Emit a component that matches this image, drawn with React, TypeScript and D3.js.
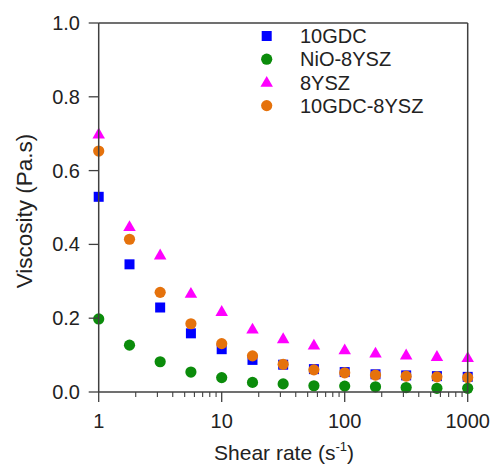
import React from "react";
import * as d3 from "d3";

const shearRates = [1, 1.78, 3.16, 5.62, 10, 17.8, 31.6, 56.2, 100, 178, 316, 562, 1000];
const gdc10 = [0.529, 0.346, 0.229, 0.159, 0.116, 0.087, 0.074, 0.062, 0.054, 0.048, 0.045, 0.043, 0.041];
const nio8ysz = [0.198, 0.127, 0.082, 0.054, 0.039, 0.026, 0.022, 0.017, 0.016, 0.014, 0.012, 0.01, 0.01];
const ysz8 = [0.699, 0.448, 0.371, 0.267, 0.218, 0.17, 0.144, 0.127, 0.114, 0.105, 0.1, 0.096, 0.093];
const gdc8ysz = [0.653, 0.414, 0.27, 0.185, 0.131, 0.098, 0.075, 0.06, 0.052, 0.046, 0.043, 0.041, 0.039];

const seriesNames = ["10GDC", "NiO-8YSZ", "8YSZ", "10GDC-8YSZ"];
const seriesShapes = ["square", "circle", "triangle", "circle"];
const seriesColors = ["#0000ff", "#0b8c0b", "#ff00ff", "#e5720c"];
const seriesValues = [gdc10, nio8ysz, ysz8, gdc8ysz];
const drawOrder = [2, 0, 3, 1];

const yTicks = [0, 0.2, 0.4, 0.6, 0.8, 1.0];
const xTicks = [1, 10, 100, 1000];

const W = 492;
const H = 466;
const FONT = "'Liberation Sans', Arial, sans-serif";

function Marker({ shape, x, y, color }: { shape: string; x: number; y: number; color: string }) {
  if (shape === "square") {
    return <rect x={x - 5} y={y - 5} width={10} height={10} fill={color} />;
  }
  if (shape === "triangle") {
    const s = 12.5;
    const h = s * 0.866;
    const p = `${x},${y - h * 0.6} ${x - s / 2},${y + h * 0.4} ${x + s / 2},${y + h * 0.4}`;
    return <polygon points={p} fill={color} />;
  }
  return <circle cx={x} cy={y} r={5.6} fill={color} />;
}

export default function App() {
  const x = d3.scaleLog().domain([1, 1000]).range([98.7, 467.7]);
  const y = d3.scaleLinear().domain([0, 1]).range([392, 23]);
  const minor: number[] = [];
  for (let d = 1; d < 1000; d *= 10) {
    for (let k = 2; k <= 9; k++) minor.push(d * k);
  }
  const axisColor = "#404040";
  return (
    <svg width={W} height={H} style={{ position: "absolute", left: 0, top: 0, background: "#fff" }} fontFamily={FONT}>
      {drawOrder.map((si) => (
        <g key={si}>
          {seriesValues[si].map((v, i) => (
            <Marker key={i} shape={seriesShapes[si]} x={x(shearRates[i])} y={y(v)} color={seriesColors[si]} />
          ))}
        </g>
      ))}
      <line x1={x(1)} x2={x(1000)} y1={y(1)} y2={y(1)} stroke={axisColor} strokeWidth={1.5} />
      <line x1={x(1000)} x2={x(1000)} y1={y(1)} y2={y(0)} stroke={axisColor} strokeWidth={1.5} />
      <line x1={x(1)} x2={x(1)} y1={y(1)} y2={y(0)} stroke={axisColor} strokeWidth={1.5} />
      <line x1={x(1)} x2={x(1000)} y1={y(0)} y2={y(0)} stroke={axisColor} strokeWidth={1.5} />
      {yTicks.map((t) => (
        <g key={t}>
          <line x1={x(1) - 10} x2={x(1)} y1={y(t)} y2={y(t)} stroke={axisColor} strokeWidth={1.3} />
          <text x={80} y={y(t)} dy="0.35em" textAnchor="end" fontSize={20} fill="#222">
            {t.toFixed(1)}
          </text>
        </g>
      ))}
      {xTicks.map((t) => (
        <g key={t}>
          <line x1={x(t)} x2={x(t)} y1={y(0)} y2={y(0) + 10} stroke={axisColor} strokeWidth={1.3} />
          <text x={x(t)} y={428} textAnchor="middle" fontSize={20} fill="#222">
            {t}
          </text>
        </g>
      ))}
      {minor.map((t) => (
        <line key={t} x1={x(t)} x2={x(t)} y1={y(0)} y2={y(0) + 5} stroke={axisColor} strokeWidth={1.1} />
      ))}
      <text x={284} y={460} textAnchor="middle" fontSize={21} fill="#222">
        Shear rate (s
        <tspan dy={-9} fontSize={13}>-1</tspan>
        <tspan dy={9}>)</tspan>
      </text>
      <text transform={`translate(32,211) rotate(-90)`} textAnchor="middle" fontSize={22.5} fill="#222">
        Viscosity (Pa.s)
      </text>
      {seriesNames.map((n, i) => (
        <g key={n}>
          <Marker shape={seriesShapes[i]} x={266.7} y={36 + i * 23.2} color={seriesColors[i]} />
          <text x={300} y={36 + i * 23.2} dy="0.36em" fontSize={20} fill="#222">
            {n}
          </text>
        </g>
      ))}
    </svg>
  );
}
